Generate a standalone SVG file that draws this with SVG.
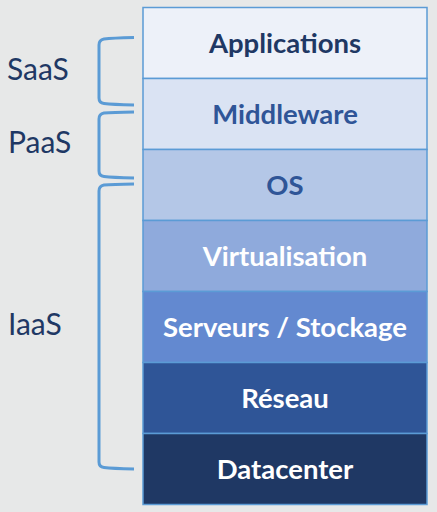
<svg xmlns="http://www.w3.org/2000/svg" width="437" height="512" viewBox="0 0 437 512">
<style>
.box{stroke:#5b9bd5;stroke-width:1.5}
.lbl{font-family:Lato,"Open Sans",sans-serif;font-weight:bold;font-size:27.5px;text-anchor:middle}
.side{font-family:Lato,"Open Sans",sans-serif;font-size:30px;fill:#1f3864}
.brace{fill:none;stroke:#5b9bd5;stroke-width:3;stroke-linecap:butt}
</style>
<rect width="437" height="512" fill="#e7e8e8"/>
<g id="applications"><rect class="box" x="143" y="7.5" width="284" height="71" fill="#edf1f9"/><text class="lbl" x="285" y="52.5" fill="#1f3864">Applications</text></g>
<g id="middleware"><rect class="box" x="143" y="78.5" width="284" height="71" fill="#dae3f3"/><text class="lbl" x="285" y="123.5" fill="#2f5597">Middleware</text></g>
<g id="os"><rect class="box" x="143" y="149.5" width="284" height="71" fill="#b4c7e7"/><text class="lbl" x="285" y="194.5" fill="#2f5597">OS</text></g>
<g id="virtualisation"><rect class="box" x="143" y="220.5" width="284" height="71" fill="#8faadc"/><text class="lbl" x="285" y="265.5" fill="#ffffff">Virtualisation</text></g>
<g id="serveurs"><rect class="box" x="143" y="291.5" width="284" height="71" fill="#6389d0"/><text class="lbl" x="285" y="336.5" fill="#ffffff">Serveurs / Stockage</text></g>
<g id="reseau"><rect class="box" x="143" y="362.5" width="284" height="71" fill="#2f5597"/><text class="lbl" x="285" y="407.5" fill="#ffffff">Réseau</text></g>
<g id="datacenter"><rect class="box" x="143" y="433.5" width="284" height="71" fill="#1f3864"/><text class="lbl" x="285" y="478.5" fill="#ffffff">Datacenter</text></g>
<g id="connectors">
<path class="brace" d="M134,37.5 Q112,38 104,39 Q99,40 99,45 L99,98 Q99,103 104,103.5 Q112,104.5 134,105"/>
<path class="brace" d="M134,112 Q112,112.5 104,113 Q99,114 99,119 L99,171 Q99,176 104,176.5 Q112,177.5 134,178"/>
<path class="brace" d="M134,184 Q112,184.5 104,185 Q99,186 99,191 L99,462 Q99,467 104,467.5 Q112,468.5 134,469"/>
</g>
<g id="saas"><text class="side" x="7" y="80">SaaS</text></g>
<g id="paas"><text class="side" x="8" y="153">PaaS</text></g>
<g id="iaas"><text class="side" x="8" y="335">IaaS</text></g>
</svg>
